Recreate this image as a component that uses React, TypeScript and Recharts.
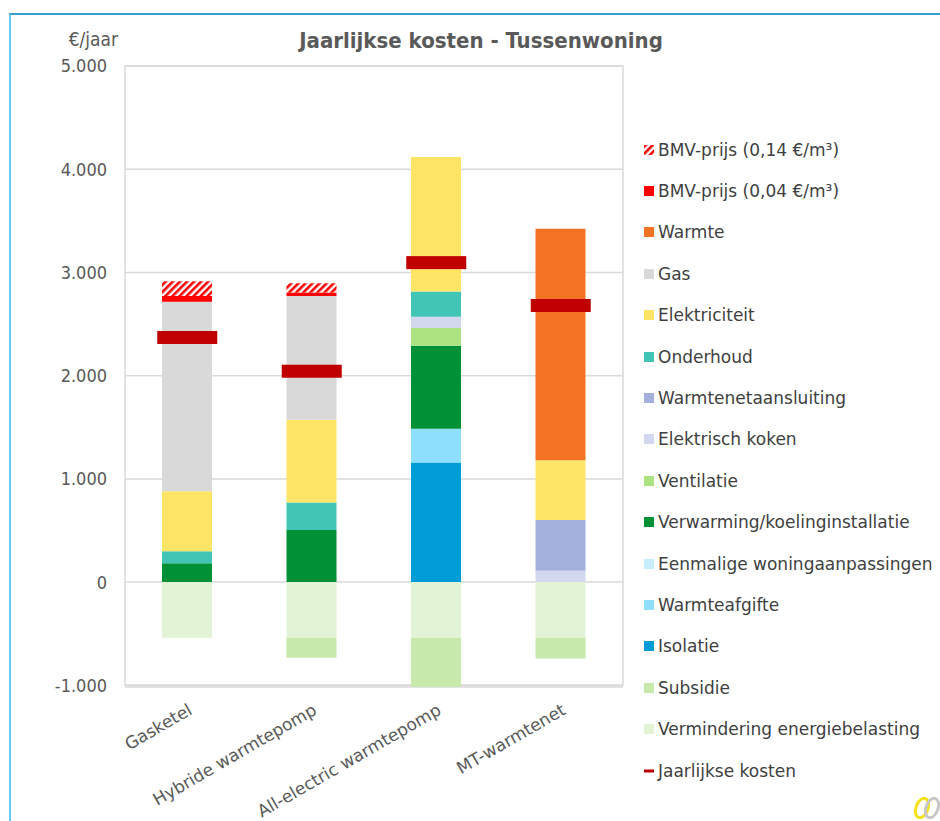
import React from 'react';
import {
  ComposedChart, Bar, Line, XAxis, YAxis, CartesianGrid, ReferenceArea
} from 'recharts';

// Varianten (categorieen op de x-as)
const categories = ['Gasketel', 'Hybride warmtepomp', 'All-electric warmtepomp', 'MT-warmtenet'];

// Kostenposten per variant, in €/jaar
const vermindering = [-540, -540, -540, -540];
const subsidie = [0, -193, -476, -200];
const isolatie = [0, 0, 1158, 0];
const warmteafgifte = [0, 0, 328, 0];
const eenmalige = [0, 0, 0, 0];
const verwarming = [183, 505, 805, 0];
const ventilatie = [0, 0, 170, 0];
const elektrischKoken = [0, 0, 110, 109];
const warmtenetaansluiting = [0, 0, 0, 492];
const onderhoud = [117, 267, 245, 0];
const elektriciteit = [581, 801, 1303, 579];
const gas = [1834, 1200, 0, 0];
const warmte = [0, 0, 0, 2244];
const bmv004 = [58, 33, 0, 0];
const bmv014 = [142, 90, 0, 0];
const jaarlijkseKosten = [2370, 2043, 3095, 2680];

const yTicks = [-1000, 0, 1000, 2000, 3000, 4000, 5000];

// Stapelvolgorde van onder naar boven
const series = [
  { key: 'vermindering', name: 'Vermindering energiebelasting', values: vermindering, color: '#e2f4d5' },
  { key: 'subsidie', name: 'Subsidie', values: subsidie, color: '#c7eaac' },
  { key: 'isolatie', name: 'Isolatie', values: isolatie, color: '#009dd9' },
  { key: 'warmteafgifte', name: 'Warmteafgifte', values: warmteafgifte, color: '#8ddffd' },
  { key: 'eenmalige', name: 'Eenmalige woningaanpassingen', values: eenmalige, color: '#c8eefb' },
  { key: 'verwarming', name: 'Verwarming/koelinginstallatie', values: verwarming, color: '#009036' },
  { key: 'ventilatie', name: 'Ventilatie', values: ventilatie, color: '#ace280' },
  { key: 'elektrischKoken', name: 'Elektrisch koken', values: elektrischKoken, color: '#d3d8ef' },
  { key: 'warmtenetaansluiting', name: 'Warmtenetaansluiting', values: warmtenetaansluiting, color: '#a3b0dc' },
  { key: 'onderhoud', name: 'Onderhoud', values: onderhoud, color: '#43c5b5' },
  { key: 'elektriciteit', name: 'Elektriciteit', values: elektriciteit, color: '#ffe566' },
  { key: 'gas', name: 'Gas', values: gas, color: '#d9d9d9' },
  { key: 'warmte', name: 'Warmte', values: warmte, color: '#f27322' },
  { key: 'bmv004', name: 'BMV-prijs (0,04 €/m³)', values: bmv004, color: '#ff0000' },
  { key: 'bmv014', name: 'BMV-prijs (0,14 €/m³)', values: bmv014, color: 'url(#bmvHatch)' },
];

const chartData = categories.map((name, i) => {
  const row: any = { name, kosten: jaarlijkseKosten[i] };
  series.forEach(s => { row[s.key] = s.values[i]; });
  return row;
});

const fmt = (v: number) => {
  const abs = Math.abs(v);
  const s = abs >= 1000 ? `${Math.floor(abs / 1000)}.${String(abs % 1000).padStart(3, '0')}` : String(abs);
  return v < 0 ? `-${s}` : s;
};

const KostenMarker = (props: any) => {
  const { cx, cy } = props;
  if (cx == null || cy == null) return null;
  return <rect x={cx - 30} y={cy - 6.5} width={60} height={13} fill="#c00000" />;
};

const legendItems = [...series].reverse();

const App: React.FC = () => {
  return (
    <div style={{ position: 'absolute', left: 0, top: 0, width: 940, height: 821, background: '#fff', overflow: 'hidden' }}>
      {/* kader */}
      <div style={{
        position: 'absolute', left: 9, top: 13, width: 940, height: 821,
        borderTop: '2px solid #3a9fd0', borderLeft: '2px solid #6ccbf0', boxSizing: 'border-box'
      }} />

      <div style={{
        position: 'absolute', left: 281, top: 28, width: 400, textAlign: 'center',
        fontFamily: '"DejaVu Sans Condensed", "DejaVu Sans", sans-serif', fontWeight: 'bold',
        fontSize: 22, color: '#595959', lineHeight: '26px'
      }}>
        Jaarlijkse kosten - Tussenwoning
      </div>
      <div style={{
        position: 'absolute', left: 18, top: 28, width: 100, textAlign: 'right',
        fontFamily: '"DejaVu Sans Condensed", "DejaVu Sans", sans-serif',
        fontSize: 19, color: '#595959', lineHeight: '22px'
      }}>
        €/jaar
      </div>

      <div style={{ position: 'absolute', left: 0, top: 0 }}>
        <ComposedChart
          width={940}
          height={821}
          data={chartData}
          stackOffset="sign"
          barSize={50}
          margin={{ top: 66, right: 317, bottom: 0, left: 0 }}
        >
          <defs>
            <pattern id="bmvHatch" patternUnits="userSpaceOnUse" width="5" height="5" patternTransform="rotate(45)">
              <rect width="5" height="5" fill="#ffffff" />
              <rect width="2.6" height="5" fill="#ff0000" />
            </pattern>
          </defs>
          <CartesianGrid vertical={false} stroke="#d9d9d9" strokeWidth={1.5} />
          <ReferenceArea y1={-1000} y2={5000} fill="none" stroke="#d9d9d9" strokeWidth={1.5} ifOverflow="visible" />
          <XAxis
            dataKey="name"
            height={134}
            axisLine={false}
            tickLine={false}
            interval={0}
            angle={-30}
            textAnchor="end"
            tickMargin={10}
            tick={{ fill: '#595959', fontSize: 17, fontFamily: '"DejaVu Sans", sans-serif' }}
          />
          <YAxis
            width={125}
            domain={[-1000, 5000]}
            ticks={yTicks}
            tickFormatter={fmt}
            axisLine={false}
            tickLine={false}
            tickMargin={12}
            tick={{ fill: '#595959', fontSize: 18, fontFamily: '"DejaVu Sans Condensed", "DejaVu Sans", sans-serif' }}
          />
          {series.map(s => (
            <Bar key={s.key} dataKey={s.key} name={s.name} stackId="kosten" fill={s.color} isAnimationActive={false} />
          ))}
          <Line
            dataKey="kosten"
            name="Jaarlijkse kosten"
            stroke="none"
            strokeWidth={0}
            dot={<KostenMarker />}
            activeDot={false}
            isAnimationActive={false}
          />
        </ComposedChart>
      </div>

      {/* legenda */}
      <div style={{
        position: 'absolute', left: 644, top: 129, fontFamily: '"DejaVu Sans", sans-serif',
        fontSize: 17, color: '#404040'
      }}>
        {legendItems.map(s => (
          <div key={s.key} style={{ height: 41.4, display: 'flex', alignItems: 'center' }}>
            <svg width={10} height={10} style={{ marginRight: 4 }}>
              <rect width={10} height={10} fill={s.color} />
            </svg>
            <span>{s.name}</span>
          </div>
        ))}
        <div style={{ height: 41.4, display: 'flex', alignItems: 'center' }}>
          <svg width={10} height={10} style={{ marginRight: 4 }}>
            <rect y={3.5} width={10} height={3} fill="#c00000" />
          </svg>
          <span>Jaarlijkse kosten</span>
        </div>
      </div>

      {/* logo */}
      <svg style={{ position: 'absolute', left: 910, top: 792 }} width={30} height={29}>
        <ellipse cx={12} cy={16} rx={6} ry={10} fill="none" stroke="#f5e11a" strokeWidth={3} transform="rotate(20 12 16)" />
        <ellipse cx={22} cy={16} rx={6} ry={10} fill="none" stroke="#c8c8c8" strokeWidth={3} transform="rotate(20 22 16)" />
      </svg>
    </div>
  );
};

export default App;
